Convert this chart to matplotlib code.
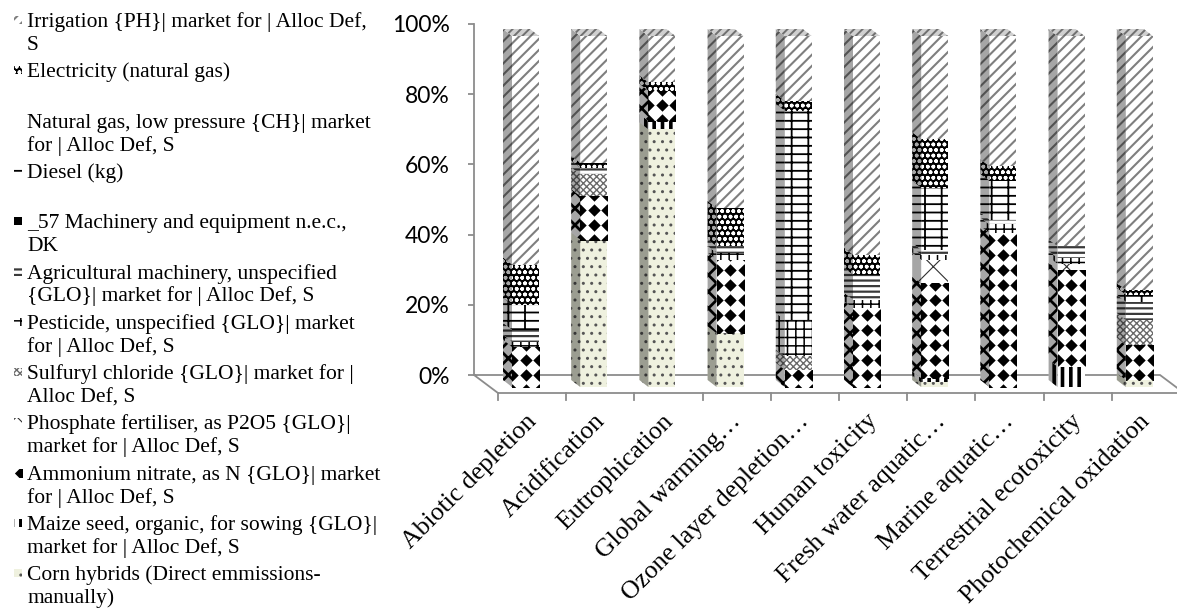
import numpy as np
import matplotlib
matplotlib.use("Agg")
import matplotlib.pyplot as plt
from matplotlib.patches import Rectangle, Polygon

# ---- data (percent of each impact category) ----
categories = ["Abiotic depletion", "Acidification", "Eutrophication",
              "Global warming\u2026", "Ozone layer depletion\u2026",
              "Human toxicity", "Fresh water aquatic\u2026",
              "Marine aquatic\u2026", "Terrestrial ecotoxicity",
              "Photochemical oxidation"]

corn        = [0.0, 42.0, 73.4, 15.3, 0.0, 0.0, 1.3, 0.0, 0.0, 2.0]
maize       = [0.0, 0.0, 2.4, 0.0, 0.0, 0.0, 1.2, 0.0, 5.8, 0.0]
ammonium    = [11.5, 12.4, 8.6, 21.0, 4.9, 22.5, 27.1, 43.9, 27.6, 10.0]
phosphate   = [0.0, 0.0, 0.0, 0.0, 0.0, 0.0, 6.7, 0.0, 1.7, 0.0]
sulfuryl    = [0.0, 6.2, 0.0, 0.0, 3.8, 0.0, 0.0, 0.0, 0.0, 7.1]
pesticide   = [1.4, 0.0, 0.0, 1.9, 10.4, 2.4, 1.4, 2.4, 1.7, 0.0]
agri_mach   = [3.4, 1.9, 0.0, 1.9, 0.0, 7.1, 1.4, 1.4, 3.3, 5.2]
mach_57     = [0.0, 0.0, 0.0, 0.0, 0.0, 0.0, 0.0, 0.0, 0.0, 0.0]
diesel      = [7.1, 0.0, 0.0, 0.0, 59.6, 0.0, 17.7, 11.0, 0.0, 2.0]
natural_gas = [0.0, 0.0, 0.0, 0.0, 0.0, 0.0, 0.0, 0.0, 0.0, 0.0]
electricity = [11.5, 1.4, 2.4, 10.9, 2.8, 5.7, 13.8, 4.2, 0.0, 1.4]
irrigation  = [65.1, 36.1, 13.2, 49.0, 18.5, 62.3, 29.4, 37.1, 59.9, 72.3]

# legend order (top to bottom) = reverse of stacking order
legend_labels = [
    ["Irrigation {PH}| market for | Alloc Def,", "S"],
    ["Electricity (natural gas)"],
    ["Natural gas, low pressure {CH}| market", "for | Alloc Def, S"],
    ["Diesel (kg)"],
    ["_57 Machinery and equipment n.e.c.,", "DK"],
    ["Agricultural machinery, unspecified", "{GLO}| market for | Alloc Def, S"],
    ["Pesticide, unspecified {GLO}| market", "for | Alloc Def, S"],
    ["Sulfuryl chloride {GLO}| market for |", "Alloc Def, S"],
    ["Phosphate fertiliser, as P2O5 {GLO}|", "market for | Alloc Def, S"],
    ["Ammonium nitrate, as N {GLO}| market", "for | Alloc Def, S"],
    ["Maize seed, organic, for sowing {GLO}|", "market for | Alloc Def, S"],
    ["Corn hybrids (Direct emmissions-", "manually)"],
]
series = [irrigation, electricity, natural_gas, diesel, mach_57, agri_mach,
          pesticide, sulfuryl, phosphate, ammonium, maize, corn]

# fill styles: face, hatch colour, hatch, hatch linewidth
styles = [
    ("white", "#7f7f7f", "///", 1.5),    # irrigation
    ("black", "white", "ooo", 1.1),      # electricity
    ("white", "#9a9a9a", "|.", 1.0),     # natural gas
    ("white", "black", "--|", 1.3),      # diesel (bricks)
    ("black", "black", "", 1.0),         # _57 machinery
    ("white", "#3a3a3a", "---", 1.6),    # agricultural machinery
    ("white", "black", "++", 1.1),       # pesticide
    ("white", "#6a6a6a", "xxxxx", 1.0),  # sulfuryl chloride
    ("white", "#303030", "x", 0.8),      # phosphate
    ("white", "black", "", 1.0),         # ammonium nitrate (diamonds)
    ("white", "black", "||", 2.6),       # maize seed
    ("#eff1df", "#555555", "..", 1.0),   # corn hybrids
]
DIAMOND = 9  # index of the diamond-pattern series

W, H, DPI = 1177, 609, 100
fig = plt.figure(figsize=(W / DPI, H / DPI), dpi=DPI)
fig.patch.set_facecolor("white")

PX_X, PX_Y = 68.2, 3.51
x_axis_px, x0_px, y0_px = 474, 525.5, 375
ax = fig.add_axes([x_axis_px / W, 0, 1 - x_axis_px / W, 1])
ax.patch.set_visible(False)
ax.set_xlim((x_axis_px - x0_px) / PX_X, (W - x0_px) / PX_X)
ax.set_ylim(-(H - y0_px) / PX_Y, y0_px / PX_Y)

# 3-D look: front face offset and depth vector (data units)
fy = -12 / PX_Y
dx, dy = -9 / PX_X, 7 / PX_Y
bw = 27 / PX_X
grey = "#8c8c8c"

# floor
fdx, fdy = 24 / PX_X, -18 / PX_Y
xb0, xb1 = (x_axis_px - x0_px) / PX_X, (1160 - x0_px) / PX_X
ax.plot([xb0, xb1, xb1 + fdx, xb0 + fdx, xb0], [0, 0, fdy, fdy, 0],
        color=grey, lw=1.3, zorder=1, clip_on=False, solid_joinstyle="miter")
for k in range(len(categories) + 1):
    xt = xb0 + fdx + k
    ax.plot([xt, xt], [fdy, fdy - 7 / PX_Y], color=grey, lw=1.3, zorder=1)

xs = np.arange(len(categories))


def set_hlw(artist, lw):
    if hasattr(artist, "set_hatch_linewidth"):
        artist.set_hatch_linewidth(lw)


bottom = np.zeros(len(categories))
for idx in range(len(series) - 1, -1, -1):
    vals = np.array(series[idx], dtype=float)
    face, hc, hatch, hlw = styles[idx]
    plt.rcParams["hatch.linewidth"] = hlw
    bars = ax.bar(xs, vals, width=bw, bottom=bottom + fy, color=face,
                  edgecolor=hc, hatch=hatch or None, linewidth=0, zorder=3)
    for rect, b, v in zip(bars, bottom, vals):
        set_hlw(rect, hlw)
        if v <= 0:
            continue
        xl = rect.get_x()
        y0, y1 = b + fy, b + fy + v
        side_hatch = "xx" if idx == DIAMOND else hatch
        side = Polygon([(xl, y0), (xl, y1), (xl + dx, y1 + dy), (xl + dx, y0 + dy)],
                       closed=True, facecolor=face, edgecolor=hc if idx != DIAMOND else "black",
                       hatch=side_hatch or None, linewidth=0, zorder=3)
        set_hlw(side, 2.0 if idx == DIAMOND else hlw)
        ax.add_patch(side)
        if idx == DIAMOND:
            step = 15 / PX_Y
            rows = np.arange(np.floor(y0 / step) * step, y1 + step, step)
            cols = xl + np.array([0.0, 0.5, 1.0]) * bw
            X, Y = np.meshgrid(cols, rows)
            sc = ax.scatter(X.ravel(), Y.ravel(), marker="D", s=40, c="black",
                            linewidths=0, zorder=4)
            sc.set_clip_path(rect)
    bottom += vals

# shading of the side faces and the top faces
top = 100 + fy
for x in xs:
    xl, xr = x - bw / 2, x + bw / 2
    ax.add_patch(Polygon([(xl, fy), (xl, top), (xl + dx, top + dy), (xl + dx, fy + dy)],
                         closed=True, facecolor="black", alpha=0.35, linewidth=0, zorder=5))
    plt.rcParams["hatch.linewidth"] = 1.4
    tp = Polygon([(xl, top), (xr, top), (xr + dx, top + dy), (xl + dx, top + dy)],
                 closed=True, facecolor="#d0d0d0", edgecolor="#707070", hatch="////",
                 linewidth=0, zorder=5)
    set_hlw(tp, 1.4)
    ax.add_patch(tp)

# axes styling
for s in ["top", "right", "bottom"]:
    ax.spines[s].set_visible(False)
ax.spines["left"].set_bounds(0, 100)
ax.spines["left"].set_color(grey)
ax.spines["left"].set_linewidth(1.3)
ax.set_yticks([0, 20, 40, 60, 80, 100])
ax.set_yticklabels([f"{v}%" for v in [0, 20, 40, 60, 80, 100]],
                   fontfamily="Lato", fontsize=16.5)
ax.tick_params(axis="y", direction="out", length=4.3, width=1.3, color=grey, pad=13)
ax.set_xticks([])

for x, lab in zip(xs, categories):
    ax.text(x + 0.11, -12.2, lab, rotation=45, rotation_mode="anchor",
            ha="right", va="center", fontfamily="Liberation Serif", fontsize=18.5)

# legend, drawn in pixel coordinates
lax = fig.add_axes([0, 0, 1, 1])
lax.set_xlim(0, W)
lax.set_ylim(H, 0)
lax.axis("off")
lax.set_zorder(-1)
for k, (lines, st) in enumerate(zip(legend_labels, styles)):
    yc = 20 + 50.3 * k
    face, hc, hatch, hlw = st
    plt.rcParams["hatch.linewidth"] = hlw
    icon = Rectangle((14, yc - 4), 8, 8, facecolor=face, edgecolor=hc,
                     hatch=hatch or None, linewidth=0)
    set_hlw(icon, hlw)
    lax.add_patch(icon)
    if k == DIAMOND:
        sc = lax.scatter([22], [yc], marker="D", s=60, c="black", linewidths=0)
        sc.set_clip_path(icon)
    for j, line in enumerate(lines):
        lax.text(27, yc + 7 + 23 * j, line, va="baseline", ha="left",
                 fontfamily="Liberation Serif", fontsize=15.5)

fig.savefig("out.png", dpi=DPI)
